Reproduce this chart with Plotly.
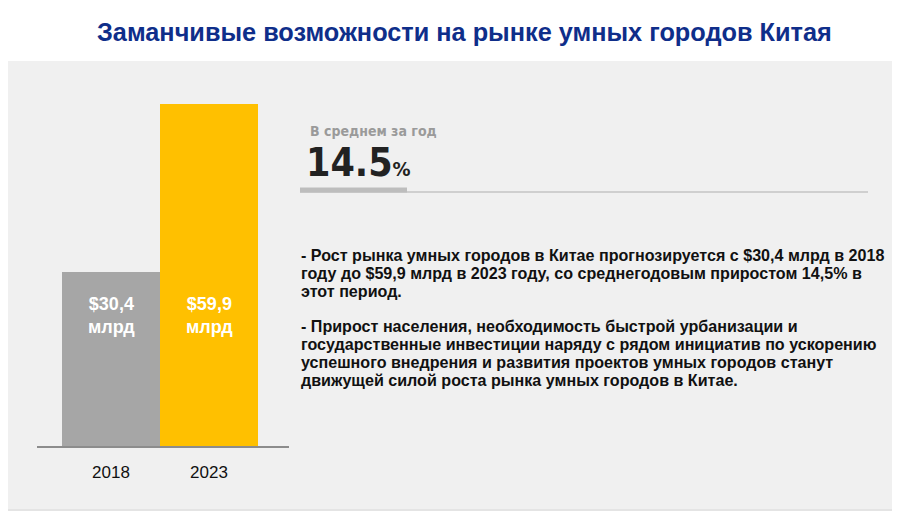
import plotly.graph_objects as go

W, H = 900, 519
OFF = 8  # page body margin of the viewer

years = ["2018", "2023"]
values = [30.4, 59.9]
bar_labels = ["$30,4<br>млрд", "$59,9<br>млрд"]
bar_colors = ["#A6A6A6", "#FFC000"]

title_text = "Заманчивые возможности на рынке умных городов Китая"
kpi_caption = "В среднем за год"
kpi_value = "14.5"
kpi_unit = "%"
paragraph_lines = [
    "- Рост рынка умных городов в Китае прогнозируется с $30,4 млрд в 2018",
    "году до $59,9 млрд в 2023 году, со среднегодовым приростом 14,5% в",
    "этот период.",
    "",
    "- Прирост населения, необходимость быстрой урбанизации и",
    "государственные инвестиции наряду с рядом инициатив по ускорению",
    "успешного внедрения и развития проектов умных городов станут",
    "движущей силой роста рынка умных городов в Китае.",
]


def X(px):
    return (px - OFF) / W


def Y(py):
    return 1 - (py - OFF) / H


fig = go.Figure()
fig.add_trace(go.Bar(
    x=years, y=values,
    marker=dict(color=bar_colors, line=dict(width=0)),
    hoverinfo="skip", showlegend=False,
))

annotations = []
# bar value labels
for i, lab in enumerate(bar_labels):
    annotations.append(dict(
        x=i, y=22.8, xref="x", yref="y", text=lab, showarrow=False,
        font=dict(family="Liberation Sans, Arial, sans-serif", size=18, color="white", weight="bold"),
        align="center", xanchor="center", yanchor="middle",
    ))

shapes = [
    dict(type="rect", xref="paper", yref="paper", x0=X(5), x1=X(895), y0=Y(511), y1=Y(63),
         fillcolor="#E4E4E4", line=dict(width=0), layer="below"),
    dict(type="rect", xref="paper", yref="paper", x0=X(3), x1=X(893), y0=Y(509), y1=Y(61),
         fillcolor="#F0F0F0", line=dict(width=0), layer="below"),
    dict(type="line", xref="paper", yref="paper", x0=X(300), x1=X(868), y0=Y(192), y1=Y(192),
         line=dict(color="#CFCFCF", width=2)),
    dict(type="line", xref="paper", yref="paper", x0=X(300), x1=X(407), y0=Y(190), y1=Y(190),
         line=dict(color="#BDBDBD", width=5)),
]

annotations += [
    dict(x=X(464), y=Y(32), xref="paper", yref="paper", text=title_text, showarrow=False,
         font=dict(family="Liberation Sans, Arial, sans-serif", size=25.3, color="#0F2E8A", weight="bold"),
         xanchor="center", yanchor="middle"),
    dict(x=X(308), y=Y(131), xref="paper", yref="paper", text=kpi_caption, showarrow=False,
         font=dict(family="DejaVu Sans Condensed, Liberation Sans, sans-serif", size=14,
                   color="#9A9A9A", weight="bold"),
         xanchor="left", yanchor="middle"),
    dict(x=X(304), y=Y(187), xref="paper", yref="paper",
         text=kpi_value + "<span style='font-size:20px'>" + kpi_unit + "</span>", showarrow=False,
         font=dict(family="DejaVu Sans Condensed, Liberation Sans, sans-serif", size=39,
                   color="#222222", weight="bold"),
         xanchor="left", yanchor="bottom"),
]

line_y = 255
for ln in paragraph_lines:
    if ln:
        annotations.append(dict(
            x=X(299), y=Y(line_y), xref="paper", yref="paper", text=ln, showarrow=False,
            align="left", xanchor="left", yanchor="middle",
            font=dict(family="Liberation Sans, Arial, sans-serif", size=16.1, color="#111111",
                      weight="bold"),
        ))
        line_y += 18
    else:
        line_y += 17

fig.update_layout(
    width=W, height=H,
    margin=dict(l=0, r=0, t=0, b=0),
    paper_bgcolor="white", plot_bgcolor="rgba(0,0,0,0)",
    bargap=0,
    shapes=shapes,
    annotations=annotations,
    xaxis=dict(domain=[X(37), X(289)], range=[-0.755, 1.816], type="category",
               showline=True, linecolor="#8C8C8C", linewidth=2, showgrid=False, zeroline=False,
               ticks="outside", ticklen=10, tickcolor="rgba(0,0,0,0)",
               tickfont=dict(family="Liberation Sans, Arial, sans-serif", size=17, color="#111111")),
    yaxis=dict(domain=[Y(446), Y(60)], range=[0, 67.6], visible=False, showgrid=False),
)

fig.write_html("out.html")
